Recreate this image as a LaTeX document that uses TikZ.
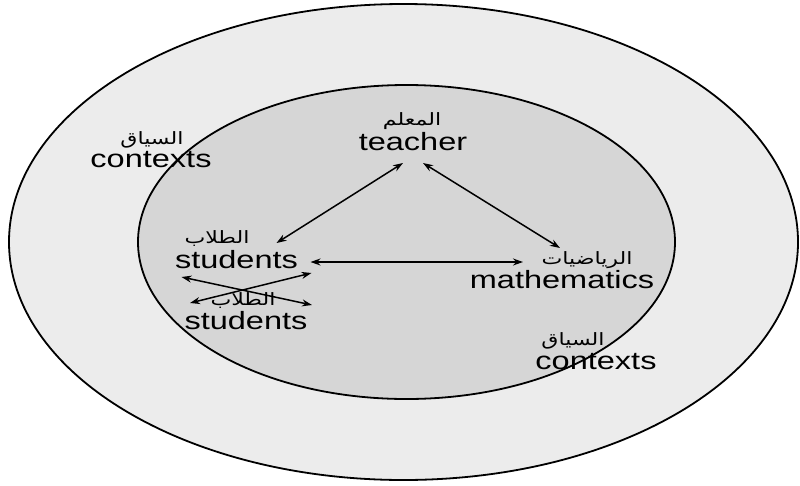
\documentclass[tikz,border=0pt]{standalone}
\usepackage{fontspec}
\usepackage{graphicx}
\setmainfont{Liberation Sans}
\newfontfamily\arabicfont[Script=Arabic]{DejaVu Sans}
\TeXXeTstate=1
\usetikzlibrary{arrows.meta,calc}
\definecolor{outerfill}{RGB}{236,236,236}
\definecolor{innerfill}{RGB}{214,214,214}
\newcommand{\EnT}[1]{\scalebox{1.3}[1]{\fontsize{25}{28}\selectfont #1}}
\newcommand{\ArT}[1]{\scalebox{1.3}[1]{\fontsize{17}{20}\arabicfont\beginR #1\endR}}
\tikzset{
  lbl/.style={inner sep=0pt, anchor=center},
  link/.style={line width=1.5pt, {Stealth[length=10pt,width=7pt]}-{Stealth[length=10pt,width=7pt]}},
  ring/.style={line width=1.8pt, draw=black}
}
\begin{document}
\begin{tikzpicture}[x=1pt,y=-1pt]
\useasboundingbox (0,0) rectangle (800,485);
\fill[white] (0,0) rectangle (800,485);
\draw[ring, fill=outerfill] (403.5,242) ellipse [x radius=394.5, y radius=238];
\draw[ring, fill=innerfill] (406.5,242) ellipse [x radius=268.5, y radius=157];

\node[lbl] (ctx1ar) at (152,140) {\ArT{السياق}};
\node[lbl] (ctx1) at (151,160) {\EnT{contexts}};
\node[lbl] (teacherar) at (412,121) {\ArT{المعلم}};
\node[lbl] (teacher) at (413,142) {\EnT{teacher}};
\node[lbl] (stuar) at (217,238) {\ArT{الطلاب}};
\node[lbl] (stu) at (236.5,260) {\EnT{students}};
\node[lbl] (stu2ar) at (243,300) {\ArT{الطلاب}};
\node[lbl] (stu2) at (246,321) {\EnT{students}};
\node[lbl] (mathar) at (587,260) {\ArT{الرياضيات}};
\node[lbl] (math) at (562,280) {\EnT{mathematics}};
\node[lbl] (ctx2ar) at (573,341) {\ArT{السياق}};
\node[lbl] (ctx2) at (596,362) {\EnT{contexts}};

\draw[link] ($(teacher)+(-10,21)$) -- ($(stu)+(40,-17)$);
\draw[link] ($(teacher)+(10,21)$) -- ($(math)+(-2,-32)$);
\draw[link] ($(stu)+(74,2)$) -- ($(math)+(-39,-18)$);
\draw[link] ($(stu)+(-55,17)$) -- ($(stu2)+(66,-16)$);
\draw[link] ($(stu2)+(-56,-18)$) -- ($(stu)+(75,13)$);
\end{tikzpicture}
\end{document}
